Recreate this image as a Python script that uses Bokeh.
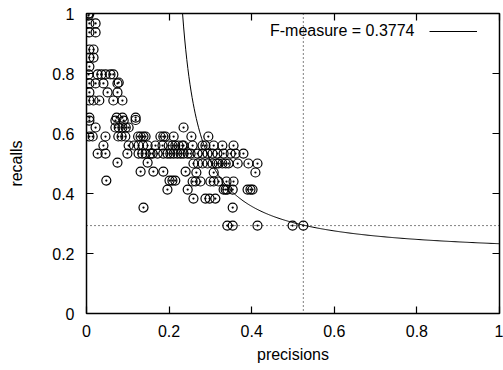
import numpy as np
from bokeh.plotting import figure
from bokeh.models import (Range1d, FixedTicker, LinearAxis, Span, Legend, LegendItem, Label,
                          CustomLabelingPolicy)
from bokeh.embed import file_html
from bokeh.resources import INLINE

precisions = [
    0.005, 0.007, 0.005, 0.007, 0.022, 0.007, 0.022, 0.007, 0.017, 0.007, 0.017, 0.007,
    0.005, 0.027, 0.036, 0.046, 0.058, 0.065, 0.007, 0.022, 0.041, 0.075, 0.078,
    0.007, 0.051, 0.075, 0.007, 0.017, 0.031, 0.065, 0.087,
    0.007, 0.073, 0.087, 0.119, 0.007, 0.070, 0.090, 0.119,
    0.022, 0.070, 0.078, 0.087, 0.095, 0.102,
    0.007, 0.015, 0.046, 0.077, 0.085, 0.094, 0.125, 0.131, 0.138, 0.143, 0.179, 0.186,
    0.191, 0.211, 0.235, 0.254, 0.295,
    0.041, 0.102, 0.115, 0.126, 0.137, 0.148, 0.167, 0.184, 0.199, 0.208, 0.215, 0.223,
    0.232, 0.235, 0.257, 0.281, 0.288, 0.308, 0.329, 0.356,
    0.027, 0.046, 0.099, 0.126, 0.135, 0.143, 0.155, 0.160, 0.172, 0.186, 0.196, 0.203,
    0.211, 0.220, 0.228, 0.235, 0.245, 0.252, 0.269, 0.281, 0.293, 0.305, 0.317, 0.332,
    0.349, 0.361, 0.380,
    0.075, 0.148, 0.259, 0.270, 0.281, 0.293, 0.305, 0.315, 0.320, 0.329, 0.337, 0.344,
    0.366, 0.392, 0.414,
    0.131, 0.162, 0.186, 0.240, 0.266, 0.308, 0.409,
    0.048, 0.201, 0.208, 0.215, 0.257, 0.264, 0.276, 0.300, 0.308, 0.320, 0.339, 0.356,
    0.196, 0.245, 0.332, 0.337, 0.341, 0.354, 0.390, 0.397, 0.402,
    0.259, 0.288, 0.298, 0.312,
    0.138, 0.354,
    0.341, 0.354, 0.414, 0.499, 0.525,
]
recalls = [
    1.0, 1.0, 0.993, 0.967, 0.967, 0.937, 0.937, 0.88, 0.88, 0.853, 0.853, 0.823,
    0.797, 0.797, 0.797, 0.797, 0.797, 0.797, 0.767, 0.767, 0.767, 0.767, 0.77,
    0.737, 0.737, 0.737, 0.71, 0.71, 0.71, 0.71, 0.71,
    0.653, 0.653, 0.653, 0.653, 0.643, 0.643, 0.643, 0.645,
    0.62, 0.62, 0.62, 0.62, 0.62, 0.62,
    0.59, 0.59, 0.59, 0.59, 0.59, 0.59, 0.59, 0.59, 0.59, 0.59, 0.59, 0.59,
    0.59, 0.59, 0.62, 0.59, 0.59,
    0.56, 0.56, 0.56, 0.56, 0.56, 0.56, 0.56, 0.56, 0.56, 0.56, 0.56, 0.56,
    0.56, 0.56, 0.56, 0.56, 0.56, 0.56, 0.56, 0.56,
    0.533, 0.533, 0.533, 0.533, 0.533, 0.533, 0.533, 0.533, 0.533, 0.533, 0.533, 0.533,
    0.533, 0.533, 0.533, 0.533, 0.533, 0.533, 0.533, 0.533, 0.533, 0.533, 0.533, 0.533,
    0.533, 0.533, 0.533,
    0.503, 0.503, 0.5, 0.5, 0.5, 0.5, 0.5, 0.5, 0.5, 0.5, 0.5, 0.5,
    0.5, 0.5, 0.5,
    0.473, 0.473, 0.473, 0.473, 0.47, 0.47, 0.47,
    0.443, 0.443, 0.443, 0.443, 0.44, 0.44, 0.44, 0.44, 0.44, 0.44, 0.44, 0.44,
    0.413, 0.413, 0.413, 0.413, 0.413, 0.413, 0.413, 0.413, 0.413,
    0.383, 0.383, 0.383, 0.383,
    0.353, 0.353,
    0.293, 0.293, 0.293, 0.293, 0.293,
]

f_measure = 0.3774
best_precision = 0.525
best_recall = 0.293

tick_values = [0, 0.2, 0.4, 0.6, 0.8, 1]
tick_labels = ["0", "0.2", "0.4", "0.6", "0.8", "1"]

FONT = "Liberation Sans"
FS = "16px"

p = figure(width=503, height=370, output_backend="svg", toolbar_location=None,
           x_range=Range1d(0, 1), y_range=Range1d(0, 1),
           min_border_left=86, min_border_right=4, min_border_top=13, min_border_bottom=57,
           x_axis_label="precisions", y_axis_label="recalls")
p.background_fill_color = "white"
p.border_fill_color = "white"
p.grid.visible = False
p.outline_line_color = "black"
p.outline_line_width = 1.5

overrides = {v: l for v, l in zip(tick_values, tick_labels)}

def style_axis(ax, labels=True):
    ax.ticker = FixedTicker(ticks=tick_values)
    ax.axis_line_color = None
    ax.major_tick_in = 7
    ax.major_tick_out = 0
    ax.major_tick_line_color = "black"
    ax.major_tick_line_width = 1.2
    ax.minor_tick_line_color = None
    ax.major_label_text_font = FONT
    ax.major_label_text_font_size = FS
    ax.major_label_text_color = "black"
    ax.axis_label_text_font = FONT
    ax.axis_label_text_font_size = FS
    ax.axis_label_text_font_style = "normal"
    ax.axis_label_text_color = "black"
    if labels:
        ax.major_label_overrides = overrides
    else:
        ax.major_label_policy = CustomLabelingPolicy(code="return []")
        ax.major_label_text_font_size = "0px"
        ax.major_label_standoff = 0

for ax in p.xaxis:
    style_axis(ax)
    ax.major_label_standoff = 11
    ax.axis_label_standoff = 6
for ax in p.yaxis:
    style_axis(ax)
    ax.major_label_standoff = 12
    ax.axis_label_standoff = 24

top = LinearAxis()
style_axis(top, labels=False)
p.add_layout(top, "above")
right = LinearAxis()
style_axis(right, labels=False)
p.add_layout(right, "right")

# dotted best-point lines
p.add_layout(Span(location=best_precision, dimension="height", line_color="black",
                  line_dash="1 3", line_width=1))
p.add_layout(Span(location=best_recall, dimension="width", line_color="black",
                  line_dash="1 3", line_width=1))

# F-measure iso-curve
px = np.linspace(f_measure / (2 - f_measure), 1, 300)
py = f_measure * px / (2 * px - f_measure)
curve = p.line(px, py, line_color="black", line_width=1)

p.scatter(precisions, recalls, marker="circle_dot", size=9, fill_color=None,
          line_color="black", line_width=1.2)

legend = Legend(items=[LegendItem(label=" ", renderers=[curve])],
                location=(343, 277), glyph_width=48, glyph_height=10,
                label_width=0, label_text_font_size="1px", padding=0, margin=0,
                spacing=0, border_line_color=None, background_fill_alpha=0)
p.add_layout(legend, "center")

p.add_layout(Label(x=328, y=283, x_units="screen", y_units="screen",
                   text="F-measure = %.4f" % f_measure, text_font=FONT,
                   text_font_size=FS, text_align="right", text_baseline="middle",
                   text_color="black"))

open("out.html", "w").write(file_html(p, INLINE))
